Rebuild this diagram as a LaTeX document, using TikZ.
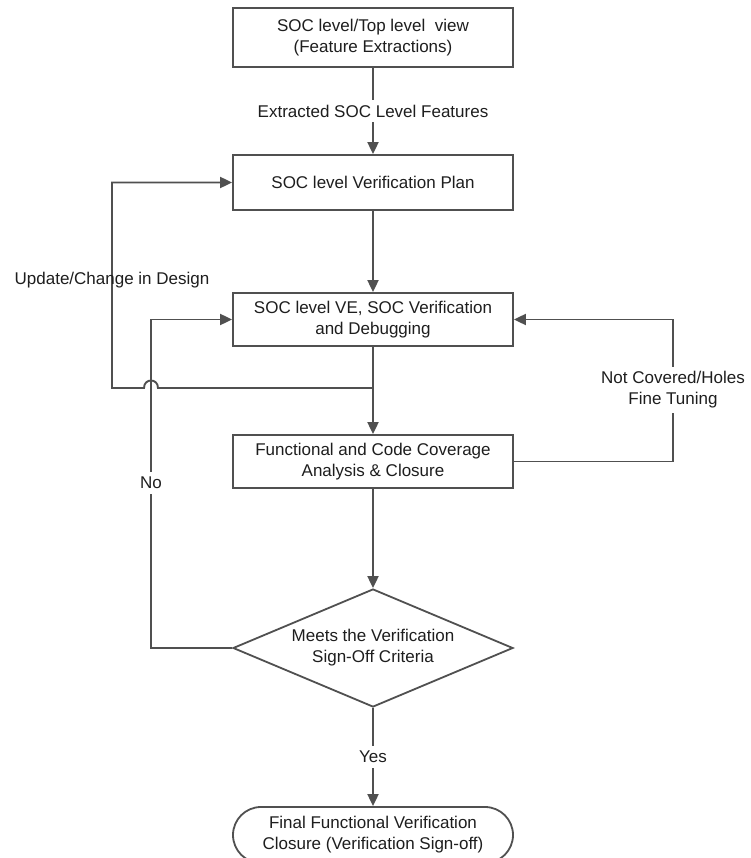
\documentclass[tikz,border=0pt]{standalone}
\usepackage{fontspec}
\setmainfont{Liberation Sans}
\usetikzlibrary{arrows.meta,shapes.geometric}
\definecolor{linegray}{RGB}{80,80,80}
\definecolor{textgray}{RGB}{30,30,30}
\begin{document}
\begin{tikzpicture}[x=1pt,y=-1pt,
  every node/.style={font=\fontsize{17}{21}\selectfont, text=textgray},
  box/.style={draw=linegray, line width=1.8pt, minimum width=280pt, inner sep=0pt, align=center},
  decision/.style={diamond, draw=linegray, line width=1.8pt, aspect=2.37,
    minimum width=280pt, minimum height=118pt, inner sep=0pt, align=center},
  terminal/.style={draw=linegray, line width=1.8pt, rounded corners=28pt,
    minimum width=280pt, minimum height=56pt, inner sep=0pt, align=center},
  flow/.style={draw=linegray, line width=1.9pt, -{Triangle[length=12pt,width=11pt]}},
  onlabel/.style={fill=white, inner xsep=2pt, inner ysep=5pt, align=center}]

\fill[white] (0,0) rectangle (750,858);
\useasboundingbox (0,0) rectangle (750,858);

% process steps
\node[box, minimum height=59pt] (top) at (373,37.5) {SOC level/Top level\ \ view\\(Feature Extractions)};
\node[box, minimum height=55pt] (plan) at (373,182.5) {SOC level Verification Plan};
\node[box, minimum height=53pt] (ve) at (373,319.5) {SOC level VE, SOC Verification\\and Debugging};
\node[box, minimum height=53pt] (cov) at (373,461.5) {Functional and Code Coverage\\Analysis \& Closure};
\node[decision] (meets) at (373,648) {Meets the Verification\\Sign-Off Criteria};
\node[terminal] (final) at (373,835) {Final Functional Verification\\Closure (Verification Sign-off)};

% main flow
\draw[flow] (top) -- node[onlabel] (feat) {Extracted SOC Level Features} (plan);
\draw[flow] (plan) -- (ve);
\draw[flow] (ve) -- (cov);
\draw[flow] (cov) -- (meets);
\draw[flow] (meets) -- node[onlabel] (yes) {Yes} (final);

% design change loop, hopping over the "No" return line
\coordinate (j) at (373,388);
\coordinate (hopR) at (158,388);
\coordinate (hopL) at (144,388);
\coordinate (lc) at (112,388);
\draw[flow] (j) -- (hopR) .. controls (158,378) and (144,378) .. (hopL) -- (lc) |- (plan.west);
\node (upd) at (112,280) {Update/Change in Design};

% verification not met
\coordinate (nc) at (151,648);
\draw[flow] (meets.west) -- (nc) |- (ve.west);
\node[onlabel] (no) at (151,483) {No};

% coverage holes loop
\coordinate (rc) at (673,461.5);
\draw[flow] (cov.east) -- (rc) |- (ve.east);
\node[onlabel] (holes) at (673,390) {Not Covered/Holes\\Fine Tuning};
\end{tikzpicture}
\end{document}
